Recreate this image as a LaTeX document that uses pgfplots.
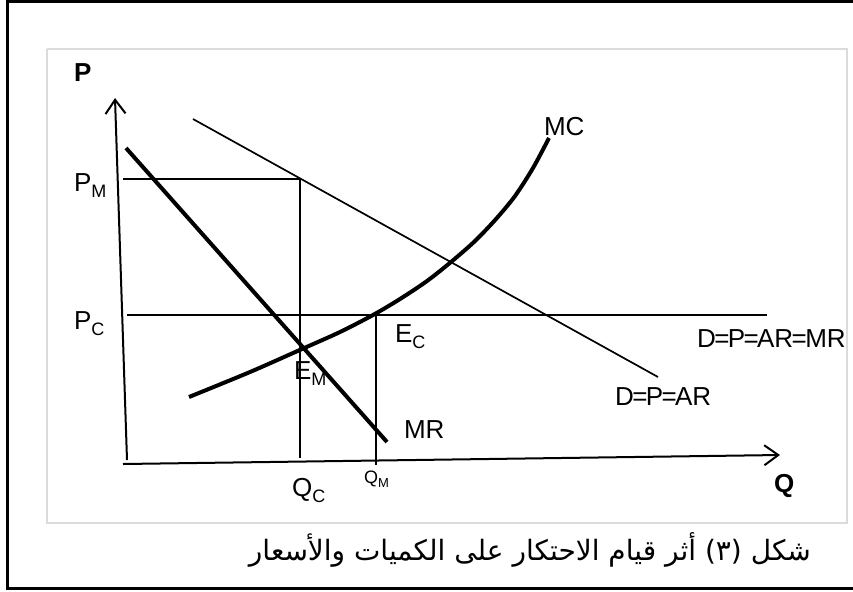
\documentclass[border=0pt]{standalone}
\usepackage{pgfplots}
\pgfplotsset{compat=1.18}
\usetikzlibrary{arrows.meta}
\usepackage{fontspec}
\setmainfont{Liberation Sans}
\newfontfamily\arabicfont[Script=Arabic]{DejaVu Sans}
\TeXXeTstate=1
\newcommand\lab{\fontsize{13}{15}\selectfont}
\newcommand\sub[1]{\raisebox{-3pt}{\fontsize{9}{10}\selectfont#1}}
\newcommand\eq{\kern-0.8pt=\kern-0.8pt}
\tikzset{ax arrow/.style={line width=1pt, -{Straight Barb[length=7pt,width=10pt,line width=1pt]}}}

\begin{document}
\begin{tikzpicture}
\begin{axis}[
    name=ax,
    scale only axis,
    width=426.5pt, height=295.5pt,
    xmin=0, xmax=853, ymin=0, ymax=591,
    y dir=reverse,
    axis lines=none, ticks=none,
    clip=false,
    every node/.style={inner sep=0pt},
]
% frames
\addplot[black, line width=1.5pt] coordinates {(870,1) (7,1) (7,588) (870,588)};
\addplot[black!14, line width=0.8pt] coordinates {(47,49) (847,49) (847,523) (47,523) (47,49)};

% axes
\addplot[ax arrow] coordinates {(127,460) (115,98)};
\addplot[ax arrow] coordinates {(123,464) (780,455)};

% guide lines
\addplot[black, line width=0.85pt] coordinates {(123,179) (300,179) (300,458)};
\addplot[black, line width=0.85pt] coordinates {(127,315) (767,315)};
\addplot[black, line width=0.85pt] coordinates {(376,315) (376,465)};

% demand
\addplot[black, line width=0.85pt] coordinates {(193,119) (658,377)};
% MR
\addplot[black, line width=2pt] coordinates {(126,148) (387,442)};
% MC
\addplot[black, line width=2pt, smooth] coordinates {
    (189,397) (250,372) (302,349) (340,332) (373,315) (400,299) (427,281)
    (451,262) (475,241) (496,219) (515,196) (533,168) (549,138)};

% labels
\node[anchor=base west] at (67,81) {\lab\bfseries P};
\node[anchor=base west] at (67,191) {\lab P\sub{M}};
\node[anchor=base west] at (67,329) {\lab P\sub{C}};
\node[anchor=base west] at (388,342) {\lab E\sub{C}};
\node[anchor=base west] at (287,379) {\lab E\sub{M}};
\node[anchor=base west] at (397,438) {\lab MR};
\node[anchor=base west] at (537,135) {\lab MC};
\node[anchor=base west] at (690,347) {\lab D\eq P\eq AR\eq MR};
\node[anchor=base west] at (608,405) {\lab D\eq P\eq AR};
\node[anchor=base west] at (285,496) {\lab Q\sub{C}};
\node[anchor=base west] at (357,483) {\fontsize{9}{10}\selectfont Q\raisebox{-2pt}{\fontsize{6.5}{7}\selectfont M}};
\node[anchor=base west] at (767,492) {\lab\bfseries Q};

% caption
\node[anchor=base east] at (818,560) {\arabicfont\fontsize{14}{16}\selectfont\beginR شكل (٣) أثر قيام الاحتكار على الكميات والأسعار\endR};
\end{axis}
\pgfresetboundingbox
\path[use as bounding box] (ax.south west) rectangle (ax.north east);
\end{tikzpicture}
\end{document}
